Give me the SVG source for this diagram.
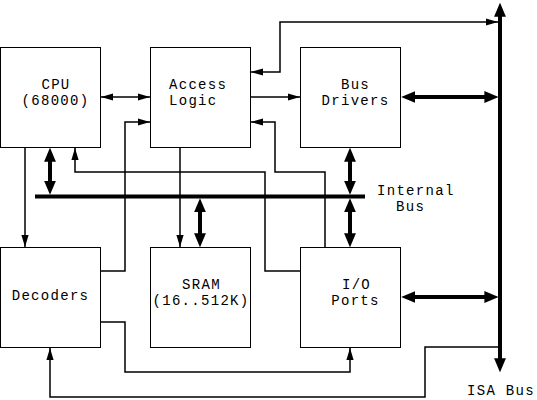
<svg xmlns="http://www.w3.org/2000/svg" width="537" height="400" viewBox="0 0 537 400">
<style>
.box{fill:#fff;stroke:#000;stroke-width:1}
.t{font-family:"Liberation Mono","DejaVu Sans Mono",monospace;font-size:14px;letter-spacing:1.3px;fill:#000}
.m{text-anchor:middle}
.thin{fill:none;stroke:#000;stroke-width:1.5}
.thick{fill:none;stroke:#000;stroke-width:4}
</style>
<defs>
<marker id="a" markerUnits="userSpaceOnUse" markerWidth="12" markerHeight="10" viewBox="0 0 10 8" refX="10" refY="4" orient="auto-start-reverse"><path d="M0,1 L10,4 L0,7 z" fill="#000"/></marker>
<marker id="A" markerUnits="userSpaceOnUse" markerWidth="14" markerHeight="14" viewBox="0 0 13 12" refX="8.5" refY="6" orient="auto-start-reverse"><path d="M0,0.5 L13,6 L0,11.5 z" fill="#000"/></marker>
</defs>
<g id="cpu"><rect class="box" x="0.5" y="47.5" width="100" height="100"/><text class="t m" x="56" y="89">CPU</text><text class="t m" x="55.5" y="105">(68000)</text></g>
<g id="access-logic"><rect class="box" x="150.5" y="47.5" width="100" height="100"/><text class="t" x="169" y="89">Access</text><text class="t" x="169" y="105">Logic</text></g>
<g id="bus-drivers"><rect class="box" x="300.5" y="47.5" width="100" height="100"/><text class="t m" x="355.5" y="89">Bus</text><text class="t m" x="355.5" y="105">Drivers</text></g>
<g id="decoders"><rect class="box" x="0.5" y="247.5" width="100" height="100"/><text class="t m" x="50.5" y="300">Decoders</text></g>
<g id="sram"><rect class="box" x="150.5" y="247.5" width="100" height="100"/><text class="t m" x="201.5" y="289">SRAM</text><text class="t m" x="201" y="305">(16..512K)</text></g>
<g id="io-ports"><rect class="box" x="300.5" y="247.5" width="100" height="100"/><text class="t m" x="356.5" y="289">I/O</text><text class="t m" x="355.5" y="305">Ports</text></g>
<g id="labels"><text class="t" x="377" y="195">Internal</text><text class="t" x="396" y="211">Bus</text><text class="t" x="467" y="395">ISA Bus</text></g>
<g id="connectors">
<path class="thin" d="M101,97 H150" marker-start="url(#a)" marker-end="url(#a)"/>
<path class="thin" d="M251,97 H300" marker-end="url(#a)"/>
<path class="thin" d="M498,22 H280 V72 H251" marker-start="url(#a)" marker-end="url(#a)"/>
<path class="thin" d="M325,247 V172 H275 V122 H251" marker-end="url(#a)"/>
<path class="thin" d="M300,271 H265 V172 H75 V148" marker-end="url(#a)"/>
<path class="thin" d="M25,148 V247" marker-end="url(#a)"/>
<path class="thin" d="M101,271 H125 V122 H150" marker-end="url(#a)"/>
<path class="thin" d="M180,148 V247" marker-end="url(#a)"/>
<path class="thin" d="M101,322 H125 V372 H350 V348" marker-end="url(#a)"/>
<path class="thin" d="M500,347 H425 V397 H50 V348" marker-end="url(#a)"/>
<path class="thick" d="M35,196.5 H365"/>
<path class="thick" d="M500,7.5 V367.5" marker-start="url(#A)" marker-end="url(#A)"/>
<path class="thick" d="M50,152.5 V190" marker-start="url(#A)" marker-end="url(#A)"/>
<path class="thick" d="M200,203 V242.5" marker-start="url(#A)" marker-end="url(#A)"/>
<path class="thick" d="M350,152.5 V190" marker-start="url(#A)" marker-end="url(#A)"/>
<path class="thick" d="M350,203 V242.5" marker-start="url(#A)" marker-end="url(#A)"/>
<path class="thick" d="M406,97 H493.5" marker-start="url(#A)" marker-end="url(#A)"/>
<path class="thick" d="M406,297 H493.5" marker-start="url(#A)" marker-end="url(#A)"/>
</g>
</svg>
